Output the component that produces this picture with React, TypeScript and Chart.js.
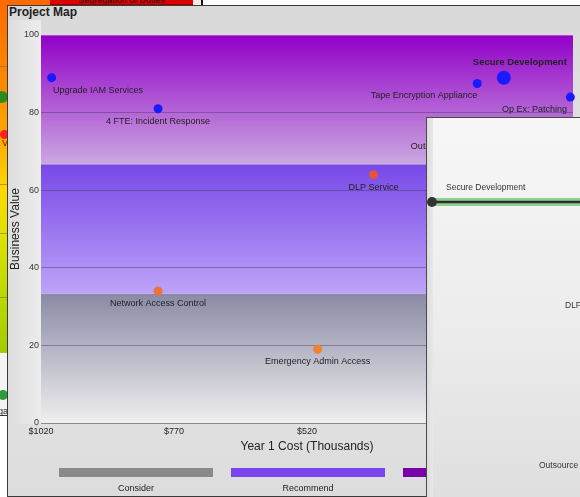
import React, { useEffect, useRef } from "react";
import { Chart, registerables } from "chart.js";

Chart.register(...registerables);

const FONT = "Arial, 'Liberation Sans', sans-serif";

// ---- Data ----
const projectNames = [
  "Upgrade IAM Services",
  "4 FTE: Incident Response",
  "Tape Encryption Appliance",
  "Secure Development",
  "Op Ex: Patching",
  "Outsource Vulnerability Scanning",
  "DLP Service",
  "Network Access Control",
  "Emergency Admin Access",
];
const costValues = [1000, 800, 200, 150, 25, 200, 395, 800, 500];
const businessValues = [89, 81, 87.5, 89, 84, 74.5, 64, 34, 19];
const bubbleSizes = [4.5, 4.5, 4.5, 7, 4.5, 4.5, 4.5, 4.5, 4.5];
const highlightedProject = "Secure Development";

const xTickValues = [1020, 770, 520, 270, 20];
const yTickValues = [0, 20, 40, 60, 80, 100];

const bandNames = ["Consider", "Recommend", "Prioritize"];
const bandLimits = [0, 33.33, 66.67, 100];

// side (overlapping) window data
const sideProjects = ["Secure Development"];
const sideValues = [78.6];

// ---- Styles ----
const BAND_STYLES = [
  { top: "#8a8aa6", bottom: "#efefef", legend: "#898989" },
  { top: "#7848e8", bottom: "#bda3f8", legend: "#7a45ec" },
  { top: "#9200c8", bottom: "#cba9e0", legend: "#7700aa" },
];

function pointColor(v: number): string {
  if (v >= bandLimits[2]) return "#1a1aff";
  const t = Math.max(0, Math.min(1, v / bandLimits[2]));
  const c0 = [245, 150, 50];
  const c1 = [230, 80, 55];
  const c = c0.map((a, k) => Math.round(a + (c1[k] - a) * t));
  return `rgb(${c[0]},${c[1]},${c[2]})`;
}

const bandsPlugin = {
  id: "bands",
  beforeDraw(chart: any) {
    const { ctx, chartArea: a, scales } = chart;
    const y = scales.y;
    ctx.save();
    for (let i = 0; i < bandNames.length; i++) {
      const top = y.getPixelForValue(bandLimits[i + 1]);
      const bottom = y.getPixelForValue(bandLimits[i]);
      const g = ctx.createLinearGradient(0, top, 0, bottom);
      g.addColorStop(0, BAND_STYLES[i].top);
      g.addColorStop(1, BAND_STYLES[i].bottom);
      ctx.fillStyle = g;
      ctx.fillRect(a.left, top, a.right - a.left, bottom - top);
    }
    ctx.restore();
  },
};

const labelsPlugin = {
  id: "pointLabels",
  afterDatasetsDraw(chart: any) {
    const { ctx, chartArea: a } = chart;
    const els = chart.getDatasetMeta(0).data;
    const minX = a.left + 12;
    const maxX = a.right - 6;
    ctx.save();
    ctx.textBaseline = "middle";
    ctx.textAlign = "left";
    ctx.fillStyle = "#222";
    els.forEach((el: any, i: number) => {
      const name = projectNames[i];
      const hi = name === highlightedProject;
      ctx.font = `${hi ? "bold 9.5px" : "9px"} ${FONT}`;
      const w = ctx.measureText(name).width;
      const r = bubbleSizes[i];
      const cy = hi ? el.y - r - 8 : el.y + 12.5;
      let left = (hi ? el.x + 16 : el.x) - w / 2;
      left = Math.max(minX, Math.min(left, maxX - w));
      if (!hi) {
        const pad = 8;
        const hit = els.some(
          (o: any, j: number) =>
            j !== i &&
            o.x + bubbleSizes[j] + pad > left &&
            o.x - bubbleSizes[j] - pad < left + w &&
            o.y + bubbleSizes[j] + pad > cy - 5 &&
            o.y - bubbleSizes[j] - pad < cy + 5
        );
        if (hit) left = el.x - w;
      }
      ctx.fillText(name, left, cy);
    });
    ctx.restore();
  },
};

const sideLabelsPlugin = {
  id: "sideLabels",
  afterDatasetsDraw(chart: any) {
    const { ctx } = chart;
    const el = chart.getDatasetMeta(0).data[0];
    if (!el) return;
    ctx.save();
    ctx.font = `8.5px ${FONT}`;
    ctx.fillStyle = "#333";
    ctx.textBaseline = "middle";
    ctx.fillText(sideProjects[0], el.x + 14, el.y - 14);
    ctx.restore();
  },
};

export default function App() {
  const mainRef = useRef<HTMLCanvasElement>(null);
  const sideRef = useRef<HTMLCanvasElement>(null);

  useEffect(() => {
    const main = new Chart(mainRef.current!, {
      type: "bubble",
      data: {
        datasets: [
          {
            label: "Projects",
            data: projectNames.map((_, i) => ({
              x: costValues[i],
              y: businessValues[i],
              r: bubbleSizes[i],
            })),
            backgroundColor: (c: any) => pointColor(businessValues[c.dataIndex] ?? 0),
            borderWidth: 0,
            clip: false as any,
          } as any,
        ],
      },
      options: {
        animation: false,
        responsive: false,
        events: [],
        layout: { padding: { top: 15, right: 3, bottom: 42, left: 0 } },
        plugins: { legend: { display: false }, tooltip: { enabled: false } },
        scales: {
          x: {
            type: "linear",
            reverse: true,
            min: 20,
            max: 1020,
            afterBuildTicks: (s: any) => {
              s.ticks = xTickValues.map((v) => ({ value: v }));
            },
            afterFit: (s: any) => {
              s.height = 31;
              s.paddingLeft = 0;
              s.paddingRight = 0;
            },
            grid: { display: false, drawTicks: false },
            border: { display: true, color: "#8a8a8a" },
            ticks: {
              padding: 3,
              color: "#222",
              autoSkip: false,
              maxRotation: 0,
              font: { family: FONT, size: 9 },
              callback: (v: any) => "$" + v,
            },
            title: {
              display: true,
              text: "Year 1 Cost (Thousands)",
              color: "#222",
              padding: 0,
              font: { family: FONT, size: 12 },
            },
          },
          y: {
            min: 0,
            max: 100,
            afterBuildTicks: (s: any) => {
              s.ticks = yTickValues.map((v) => ({ value: v }));
            },
            afterFit: (s: any) => {
              s.width = 33;
            },
            border: { display: false },
            grid: {
              drawTicks: false,
              color: (c: any) =>
                c.tick.value === 0
                  ? "#8a8a8a"
                  : c.tick.value === 100
                  ? "rgba(255,255,255,0.3)"
                  : "rgba(70,60,90,0.45)",
            },
            ticks: { padding: 2, color: "#333", font: { family: FONT, size: 9 } },
            title: {
              display: true,
              text: "Business Value",
              color: "#222",
              padding: 0,
              font: { family: FONT, size: 12 },
            },
          },
        },
      } as any,
      plugins: [bandsPlugin, labelsPlugin],
    });

    const sidePoints = [
      { x: 0, y: sideValues[0] },
      { x: 11, y: sideValues[0] },
    ];
    const side = new Chart(sideRef.current!, {
      type: "line",
      data: {
        datasets: [
          {
            data: sidePoints,
            borderColor: "#2e2e2e",
            borderWidth: 2.5,
            pointRadius: [5, 0],
            pointBackgroundColor: "#333",
            pointBorderWidth: 0,
            clip: false as any,
            order: 0,
          } as any,
          {
            data: sidePoints,
            borderColor: "#8fcf8f",
            borderWidth: 8,
            pointRadius: 0,
            clip: false as any,
            order: 1,
          } as any,
        ],
      },
      options: {
        animation: false,
        responsive: false,
        events: [],
        layout: { padding: { left: 5, top: 0, right: 0, bottom: 0 } },
        plugins: { legend: { display: false }, tooltip: { enabled: false } },
        scales: {
          x: { type: "linear", display: false, min: 0, max: 10 },
          y: { display: false, min: 0, max: 100 },
        },
      } as any,
      plugins: [sideLabelsPlugin],
    });

    return () => {
      main.destroy();
      side.destroy();
    };
  }, []);

  const abs = (s: React.CSSProperties): React.CSSProperties => ({ position: "absolute", ...s });

  return (
    <div
      style={{
        position: "fixed",
        left: 0,
        top: 0,
        width: 580,
        height: 497,
        overflow: "hidden",
        background: "#ffffff",
        fontFamily: FONT,
      }}
    >
      {/* left background window strip */}
      <div
        style={abs({
          left: 0,
          top: 0,
          width: 7,
          height: 353,
          background:
            "linear-gradient(to bottom, #ff6a00 0px, #ff8c00 90px, #ffb400 150px, #ffd800 190px, #dde200 235px, #bcd800 295px, #a2cc00 353px)",
        })}
      />
      {[66, 184, 233, 297].map((y) => (
        <div key={y} style={abs({ left: 0, top: y, width: 7, height: 1, background: "rgba(120,100,60,0.5)" })} />
      ))}
      <div style={abs({ left: 0, top: 353, width: 7, height: 62, background: "#f4f4f4" })} />
      <div style={abs({ left: 0, top: 415, width: 7, height: 1, background: "#333" })} />
      <div style={abs({ left: -4, top: 91, width: 12, height: 12, borderRadius: 6, background: "#2d8a1e" })} />
      <div style={abs({ left: 0, top: 130, width: 9, height: 9, borderRadius: 5, background: "#ff2020" })} />
      <div style={abs({ left: 2, top: 138, fontSize: 9, color: "#a00000" })}>V</div>
      <div style={abs({ left: -2, top: 390, width: 10, height: 10, borderRadius: 5, background: "#2e9a3a" })} />
      <div style={abs({ left: -2, top: 406, fontSize: 9, color: "#333" })}>ga</div>

      {/* top background strip */}
      <div style={abs({ left: 0, top: 0, width: 50, height: 5, background: "#ff6a00" })} />
      <div
        style={abs({
          left: 50,
          top: -4,
          width: 143,
          height: 9,
          background: "#dd0000",
          borderBottom: "1px solid #990000",
          boxSizing: "border-box",
          overflow: "hidden",
          fontSize: 9,
          color: "#111",
          textAlign: "center",
          lineHeight: "9px",
        })}
      >
        Segregation of Duties
      </div>
      <div style={abs({ left: 193, top: 0, width: 8, height: 5, background: "#eeeeee" })} />
      <div style={abs({ left: 201, top: 0, width: 2, height: 5, background: "#111" })} />

      {/* main window */}
      <div
        style={abs({
          left: 7,
          top: 5,
          width: 600,
          height: 492,
          boxSizing: "border-box",
          border: "1px solid #3a3a3a",
          background: "linear-gradient(to bottom, #d9d9d9 0%, #e4e4e4 45%, #e0e0e0 85%, #dcdcdc 100%)",
        })}
      />
      <div
        style={abs({
          left: 8,
          top: 20,
          width: 33,
          height: 404,
          background: "linear-gradient(to right, #dedede, #ececec)",
        })}
      />
      <div style={abs({ left: 9, top: 4, fontSize: 12, fontWeight: "bold", color: "#222", lineHeight: "16px" })}>
        Project Map
      </div>
      <canvas ref={mainRef} width={572} height={476} style={abs({ left: 8, top: 20, width: 572, height: 476 })} />

      {/* legend */}
      <div style={abs({ left: 59, top: 468, display: "flex", gap: 18 })}>
        {bandNames.map((n, i) => (
          <div key={n} style={{ width: 154 }}>
            <div style={{ height: 9, background: BAND_STYLES[i].legend }} />
            <div style={{ fontSize: 9, color: "#222", textAlign: "center", marginTop: 6, lineHeight: "11px" }}>{n}</div>
          </div>
        ))}
      </div>

      {/* overlapping window */}
      <div
        style={abs({
          left: 426,
          top: 117,
          width: 200,
          height: 420,
          boxSizing: "border-box",
          border: "1px solid #4a4a4a",
          background: "linear-gradient(to bottom, #f7f7f7 0%, #ececec 50%, #dcdcdc 100%)",
        })}
      >
        <div
          style={abs({ left: 0, top: 0, width: 6, height: 420, background: "linear-gradient(to right, #dcdcdc, #e8e8e8)" })}
        />
      </div>
      <canvas ref={sideRef} width={153} height={379} style={abs({ left: 427, top: 118, width: 153, height: 379 })} />
      <div style={abs({ left: 565, top: 299, fontSize: 8.5, color: "#333", whiteSpace: "nowrap", lineHeight: "12px" })}>
        DLP Service
      </div>
      <div style={abs({ left: 539, top: 459, fontSize: 8.5, color: "#333", whiteSpace: "nowrap", lineHeight: "12px" })}>
        Outsource Vulnerability Scanning
      </div>
    </div>
  );
}
